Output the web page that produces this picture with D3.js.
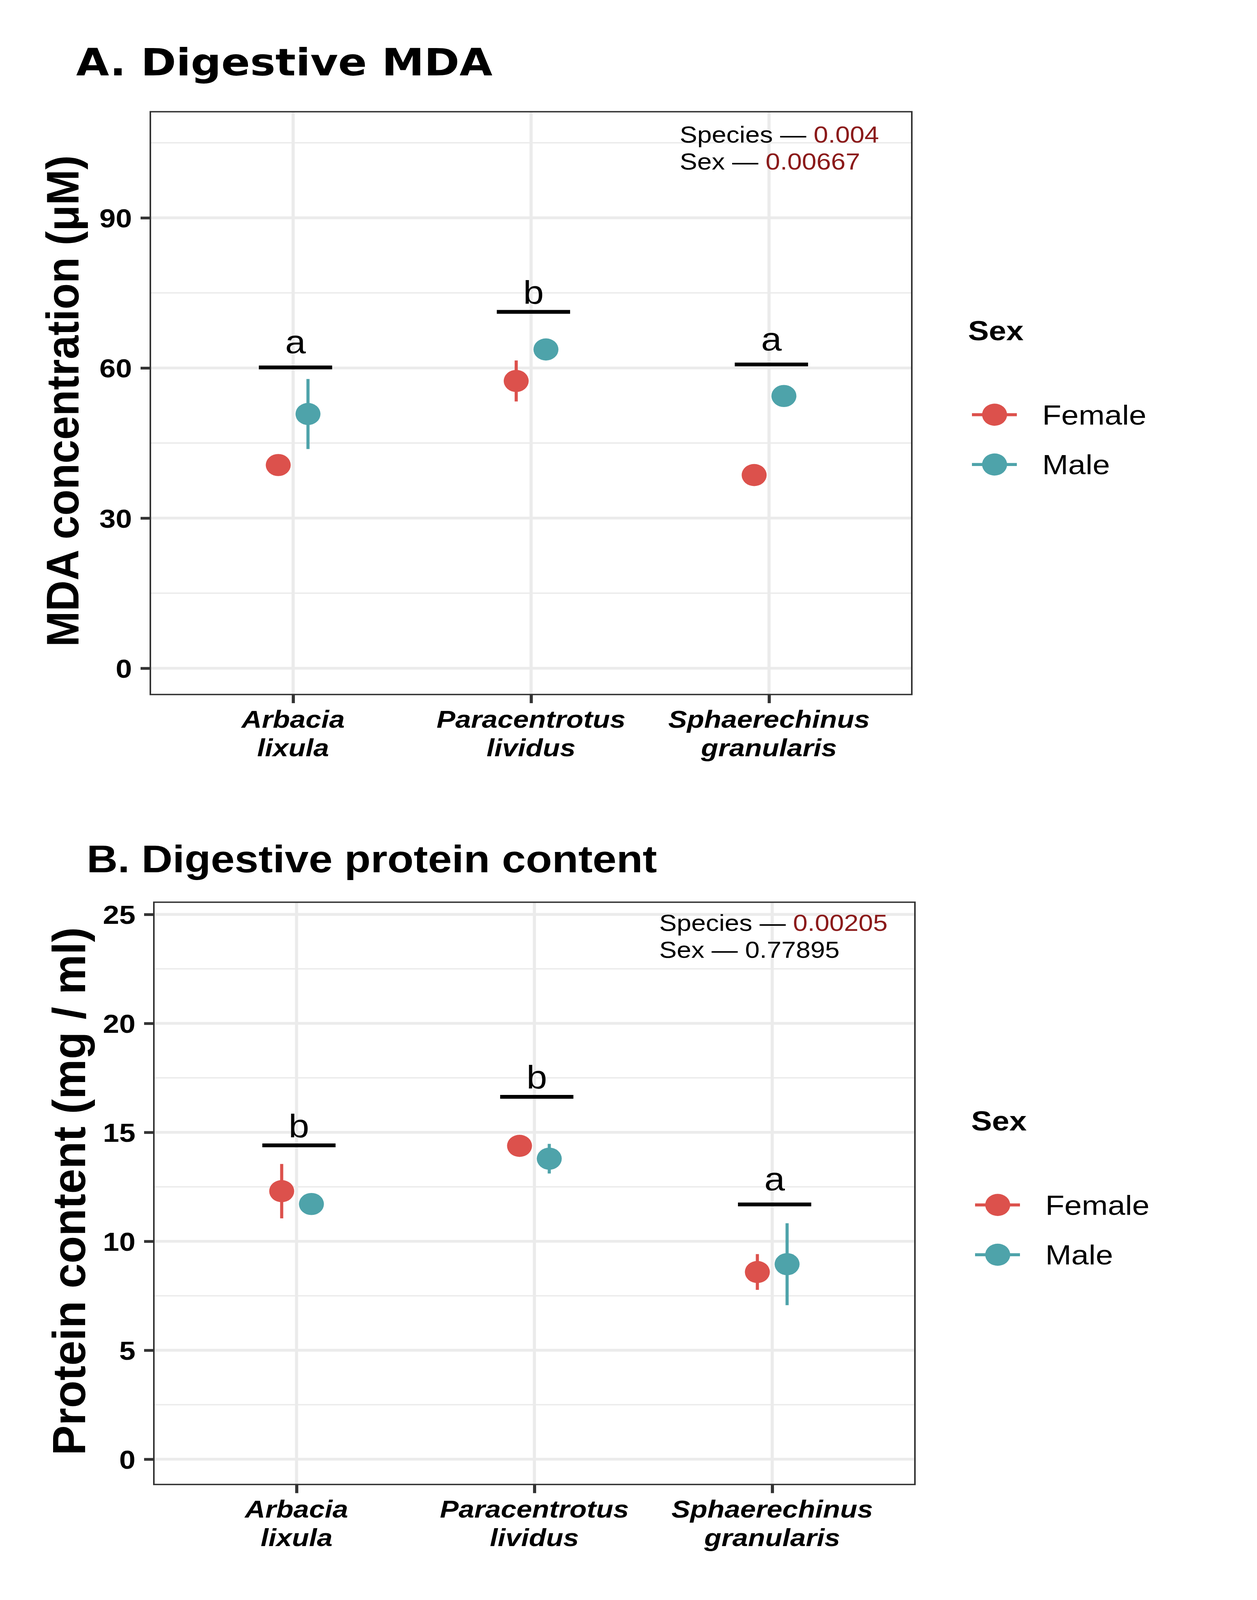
<!DOCTYPE html>
<html>
<head>
<meta charset="utf-8">
<script src="https://cdn.jsdelivr.net/npm/d3@7"></script>
<style>
  html, body { margin: 0; height: 100%; overflow: hidden; background: #ffffff; }
  #chart { width: 100%; height: 100%; }
  svg { display: block; }
</style>
</head>
<body>
<div id="chart"></div>
<script>
// Data

const species = ["Arbacia lixula", "Paracentrotus lividus", "Sphaerechinus granularis"];
const sexes = ["Female", "Male"];

// A. Digestive MDA (uM)
const mdaFemale = [40.6, 57.4, 38.6];
const mdaFemaleSe = [1.2, 4.1, 1.2];
const mdaMale = [50.8, 63.7, 54.4];
const mdaMaleSe = [7.0, 1.2, 1.2];
const mdaLetters = ["a", "b", "a"];
const mdaLetterY = [60.1, 71.2, 60.7];
const mdaTicks = [0, 30, 60, 90];
const mdaMinor = [15, 45, 75, 105];
const mdaStats = [["Species", "0.004", true], ["Sex", "0.00667", true]];

// B. Digestive protein content (mg / ml)
const protFemale = [12.3, 14.38, 8.59];
const protFemaleSe = [1.25, 0.3, 0.82];
const protMale = [11.71, 13.79, 8.95];
const protMaleSe = [0.3, 0.68, 1.88];
const protLetters = ["b", "b", "a"];
const protLetterY = [14.4, 16.63, 11.69];
const protTicks = [0, 5, 10, 15, 20, 25];
const protMinor = [2.5, 7.5, 12.5, 17.5, 22.5];
const protStats = [["Species", "0.00205", true], ["Sex", "0.77895", false]];

// Styles

const sexColor = d3.scaleOrdinal().domain(sexes).range(["#DC514C", "#4EA3AA"]);
const pColor = "#8B1A1A";
const gridColor = "#EBEBEB";
const inkColor = "#333333";
const sans = "'Liberation Sans', Arial, Helvetica, sans-serif";

const W = 3219, H = 4626;

const panels = [
  {
    title: "A. Digestive MDA", titleFont: "'DejaVu Sans', sans-serif", titleSize: 109,
    titleX: 195, titleY: 218,
    yTitle: "MDA concentration (\u03bcM)", yTitleSize: 117, yTitleX: 201, yTitleLen: 1421,
    box: { left: 385, right: 2335, top: 323, bottom: 2008 },
    yDomain: [-5.25, 111.2], ticks: mdaTicks, minor: mdaMinor,
    female: mdaFemale, femaleSe: mdaFemaleSe, male: mdaMale, maleSe: mdaMaleSe,
    letters: mdaLetters, letterY: mdaLetterY,
    stats: mdaStats, statX: 2.625, statY: 105
  },
  {
    title: "B. Digestive protein content", titleFont: sans, titleSize: 110,
    titleX: 222, titleY: 2522,
    yTitle: "Protein content (mg / ml)", yTitleSize: 119, yTitleX: 218, yTitleLen: 1527,
    box: { left: 394, right: 2343, top: 2608.5, bottom: 4292 },
    yDomain: [-1.16, 25.56], ticks: protTicks, minor: protMinor,
    female: protFemale, femaleSe: protFemaleSe, male: protMale, maleSe: protMaleSe,
    letters: protLetters, letterY: protLetterY,
    stats: protStats, statX: 2.525, statY: 24.24
  }
];

// the whole figure is drawn in a 3219 x 4626 frame and fitted to the window
const svg = d3.select("#chart")
  .append("svg")
  .attr("width", "100%")
  .attr("height", "100%")
  .attr("viewBox", `0 0 ${W} ${H}`)
  .attr("preserveAspectRatio", "none");

svg.append("rect").attr("width", W).attr("height", H).attr("fill", "#ffffff");

// glyph ink ascent, so letters sit by their top edge like in the original
const measureCtx = document.createElement("canvas").getContext("2d");
const inkAscent = (txt, font) => {
  measureCtx.font = font;
  return measureCtx.measureText(txt).actualBoundingBoxAscent;
};

const dodge = 0.0625;
const barHalf = 0.154;
const barShift = 0.01;

const drawPanel = (p) => {
  const b = p.box;
  const g = svg.append("g");

  const x = d3.scaleLinear().domain([0.4, 3.6]).range([b.left, b.right]);
  const y = d3.scaleLinear().domain(p.yDomain).range([b.bottom, b.top]);
  const pos = species.map((_, i) => i + 1);

  // title
  g.append("text")
    .attr("x", p.titleX).attr("y", p.titleY)
    .style("font-family", p.titleFont).style("font-weight", "bold")
    .style("font-size", p.titleSize + "px")
    .text(p.title);

  // y title
  g.append("text")
    .attr("transform", `translate(${p.yTitleX},${(b.top + b.bottom) / 2 - 6}) rotate(-90)`)
    .attr("text-anchor", "middle")
    .attr("textLength", p.yTitleLen)
    .attr("lengthAdjust", "spacingAndGlyphs")
    .style("font-family", sans).style("font-weight", "bold")
    .style("font-size", p.yTitleSize + "px")
    .text(p.yTitle);

  // grid
  const grid = g.append("g");
  grid.selectAll("line.minor").data(p.minor).join("line")
    .attr("x1", b.left).attr("x2", b.right)
    .attr("y1", d => y(d)).attr("y2", d => y(d))
    .attr("stroke", gridColor).attr("stroke-width", 4);
  grid.selectAll("line.major").data(p.ticks).join("line")
    .attr("x1", b.left).attr("x2", b.right)
    .attr("y1", d => y(d)).attr("y2", d => y(d))
    .attr("stroke", gridColor).attr("stroke-width", 8);
  grid.selectAll("line.vert").data(pos).join("line")
    .attr("x1", d => x(d)).attr("x2", d => x(d))
    .attr("y1", b.top).attr("y2", b.bottom)
    .attr("stroke", gridColor).attr("stroke-width", 8);

  // points with error bars
  const rows = [];
  species.forEach((s, i) => {
    rows.push({ sex: "Female", pos: i + 1 - dodge, v: p.female[i], se: p.femaleSe[i] });
    rows.push({ sex: "Male", pos: i + 1 + dodge, v: p.male[i], se: p.maleSe[i] });
  });
  g.append("g").selectAll("line").data(rows).join("line")
    .attr("x1", d => x(d.pos)).attr("x2", d => x(d.pos))
    .attr("y1", d => y(d.v - d.se)).attr("y2", d => y(d.v + d.se))
    .attr("stroke", d => sexColor(d.sex)).attr("stroke-width", 8);
  g.append("g").selectAll("circle").data(rows).join("circle")
    .attr("cx", d => x(d.pos)).attr("cy", d => y(d.v))
    .attr("r", 32)
    .attr("fill", d => sexColor(d.sex));

  // significance letters and bars
  const letterFont = `95px ${sans}`;
  const sig = g.append("g");
  sig.selectAll("line").data(pos).join("line")
    .attr("x1", d => x(d + barShift - barHalf)).attr("x2", d => x(d + barShift + barHalf))
    .attr("y1", (d, i) => y(p.letterY[i])).attr("y2", (d, i) => y(p.letterY[i]))
    .attr("stroke", "#000000").attr("stroke-width", 11);
  sig.selectAll("text").data(pos).join("text")
    .attr("x", d => x(d + barShift))
    .attr("y", (d, i) => y(p.letterY[i]) - 92 + inkAscent(p.letters[i], letterFont))
    .attr("text-anchor", "middle")
    .style("font", letterFont)
    .text((d, i) => p.letters[i]);

  // stats annotation
  const st = g.append("text")
    .attr("x", x(p.statX)).attr("y", y(p.statY))
    .style("font-family", sans).style("font-size", "67px");
  p.stats.forEach((r, i) => {
    st.append("tspan").attr("x", x(p.statX)).attr("dy", i === 0 ? 0 : 78)
      .text(r[0] + " \u2014 ");
    st.append("tspan").attr("fill", r[2] ? pColor : "#000000").text(r[1]);
  });

  // panel border
  g.append("rect")
    .attr("x", b.left).attr("y", b.top)
    .attr("width", b.right - b.left).attr("height", b.bottom - b.top)
    .attr("fill", "none").attr("stroke", inkColor).attr("stroke-width", 4);

  // y axis
  const ya = g.append("g")
    .attr("transform", `translate(${b.left},0)`)
    .call(d3.axisLeft(y).tickValues(p.ticks).tickSize(25).tickPadding(22));
  ya.select(".domain").remove();
  ya.selectAll(".tick line").attr("stroke", inkColor).attr("stroke-width", 8);
  ya.selectAll(".tick text")
    .attr("fill", "#000000").attr("dy", "0.36em")
    .style("font-family", sans).style("font-weight", "bold").style("font-size", "75px");

  // x axis
  const xa = g.append("g")
    .attr("transform", `translate(0,${b.bottom})`)
    .call(d3.axisBottom(x).tickValues(pos).tickSize(25).tickFormat(""));
  xa.select(".domain").remove();
  xa.selectAll(".tick line").attr("stroke", inkColor).attr("stroke-width", 8);

  const xl = g.append("g").selectAll("text").data(species).join("text")
    .attr("x", (d, i) => x(i + 1))
    .attr("y", b.bottom + 96)
    .attr("text-anchor", "middle")
    .style("font-family", sans).style("font-weight", "bold")
    .style("font-style", "italic").style("font-size", "72px");
  xl.each(function (d) {
    const parts = d.split(" ");
    d3.select(this).selectAll("tspan").data(parts).join("tspan")
      .attr("x", d3.select(this).attr("x"))
      .attr("dy", (t, j) => j === 0 ? 0 : 82)
      .text(t => t);
  });

  // legend
  const cy = (b.top + b.bottom) / 2;
  const lg = g.append("g").attr("transform", `translate(${b.right},${cy})`);
  lg.append("text")
    .attr("x", 144).attr("y", -182)
    .style("font-family", sans).style("font-weight", "bold").style("font-size", "80px")
    .text("Sex");
  const key = lg.selectAll("g.key").data(sexes).join("g")
    .attr("transform", (d, i) => `translate(0,${33.5 + i * 144})`);
  key.append("line")
    .attr("x1", 154).attr("x2", 269)
    .attr("stroke", d => sexColor(d)).attr("stroke-width", 9);
  key.append("circle")
    .attr("cx", 212).attr("r", 32)
    .attr("fill", d => sexColor(d));
  key.append("text")
    .attr("x", 334).attr("y", 28.5)
    .style("font-family", sans).style("font-size", "80px")
    .text(d => d);
};

panels.forEach(drawPanel);
</script>
</body>
</html>
